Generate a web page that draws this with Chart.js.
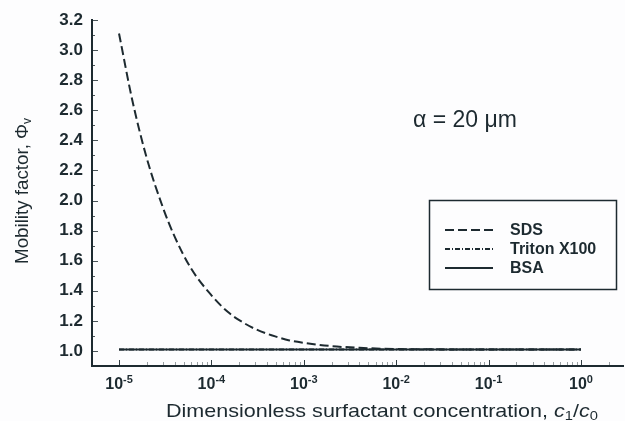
<!DOCTYPE html>
<html>
<head>
<meta charset="utf-8">
<script src="https://cdn.jsdelivr.net/npm/chart.js@4.4.0/dist/chart.umd.min.js"></script>
<style>
  html, body { margin: 0; padding: 0; background: #fdfdfe; }
  #wrap { width: 625px; height: 421px; }
</style>
</head>
<body>
<div id="wrap"><canvas id="chart" width="625" height="421"></canvas></div>
<script>
// values (x = c1/c0, y = mobility factor)
const sdsX    = [1e-5, 1.4e-5, 2e-5, 3e-5, 4e-5, 6e-5, 1e-4, 1.5e-4, 2e-4, 3e-4, 5e-4, 7e-4, 1e-3, 2e-3, 4e-3, 1e-2, 1e-1, 1];
const sdsY    = [3.11, 2.66, 2.28, 1.95, 1.76, 1.55, 1.37, 1.26, 1.205, 1.145, 1.095, 1.07, 1.054, 1.032, 1.021, 1.013, 1.01, 1.01];
const tritonX = [1e-5, 1e-3, 1e-1, 1];
const tritonY = [1.01, 1.01, 1.01, 1.01];
const bsaX    = [1e-5, 1e-3, 1e-1, 1];
const bsaY    = [1.01, 1.01, 1.01, 1.01];

const xDecades = [-5, -4, -3, -2, -1, 0];
const yTicks   = [1.0, 1.2, 1.4, 1.6, 1.8, 2.0, 2.2, 2.4, 2.6, 2.8, 3.0, 3.2];

const ink = "#1d2a30";
const pts = (xs, ys) => xs.map((x, i) => ({ x, y: ys[i] }));

// helper: draw a run of text pieces [{t, font, dy}] on one baseline
function runWidth(ctx, parts){
  return parts.reduce((w, p) => { ctx.font = p.font; return w + ctx.measureText(p.t).width; }, 0);
}
function drawRun(ctx, parts, x, y){
  let cx = x;
  for (const p of parts){
    ctx.font = p.font;
    ctx.fillText(p.t, cx, y + (p.dy || 0));
    cx += ctx.measureText(p.t).width;
  }
}

const decor = {
  id: "decor",
  afterDraw(chart){
    const { ctx, chartArea: ca } = chart;
    const xs = chart.scales.x, ys = chart.scales.y;
    ctx.save();
    ctx.strokeStyle = ink;
    ctx.fillStyle = ink;

    // inward ticks on x axis (decades + minor)
    ctx.lineWidth = 1;
    for (const n of xDecades){
      for (let m = 1; m <= 9; m++){
        const v = m * Math.pow(10, n);
        if (v < xs.min || v > xs.max) continue;
        const px = Math.round(xs.getPixelForValue(v)) + 0.5;
        const len = m === 1 ? 6 : 4;
        ctx.globalAlpha = m === 1 ? 0.9 : 0.45;
        ctx.beginPath(); ctx.moveTo(px, ca.bottom); ctx.lineTo(px, ca.bottom - len); ctx.stroke();
      }
    }
    // inward ticks on y axis
    ctx.globalAlpha = 0.8;
    for (let k = 0; k <= 23; k++){
      const v = 0.9 + k * 0.1;
      if (v > ys.max + 1e-6) continue;
      const py = Math.round(ys.getPixelForValue(v)) + 0.5;
      const len = (k % 2 === 1) ? 6 : 3;
      ctx.beginPath(); ctx.moveTo(ca.left, py); ctx.lineTo(ca.left + len, py); ctx.stroke();
    }
    ctx.globalAlpha = 1;

    // x tick labels 10^n
    ctx.textBaseline = "alphabetic";
    for (const n of xDecades){
      const px = xs.getPixelForValue(Math.pow(10, n));
      const parts = [
        { t: "10", font: "bold 16px 'Liberation Sans', Arial, sans-serif" },
        { t: String(n), font: "bold 11px 'Liberation Sans', Arial, sans-serif", dy: -6 }
      ];
      const w = runWidth(ctx, parts);
      drawRun(ctx, parts, px - w / 2, 389);
    }

    // x axis title
    const xt = [
      { t: "Dimensionless surfactant concentration, ", font: "19px 'Liberation Sans', Arial, sans-serif" },
      { t: "c", font: "italic 19px 'Liberation Sans', Arial, sans-serif" },
      { t: "1", font: "13px 'Liberation Sans', Arial, sans-serif", dy: 3 },
      { t: "/", font: "19px 'Liberation Sans', Arial, sans-serif" },
      { t: "c", font: "italic 19px 'Liberation Sans', Arial, sans-serif" },
      { t: "0", font: "13px 'Liberation Sans', Arial, sans-serif", dy: 3 }
    ];
    const xtw = runWidth(ctx, xt);
    ctx.save();
    ctx.translate(166, 417);
    ctx.scale(432 / xtw, 1);
    drawRun(ctx, xt, 0, 0);
    ctx.restore();

    // y axis title (rotated)
    const yt = [
      { t: "Mobility factor, Φ", font: "19px 'Liberation Sans', Arial, sans-serif" },
      { t: "v", font: "12px 'Liberation Sans', Arial, sans-serif", dy: 3 }
    ];
    const ytw = runWidth(ctx, yt);
    ctx.save();
    ctx.translate(28, 264);
    ctx.rotate(-Math.PI / 2);
    ctx.scale(146 / ytw, 1);
    drawRun(ctx, yt, 0, 0);
    ctx.restore();

    // annotation
    ctx.font = "23px 'Liberation Sans', Arial, sans-serif";
    ctx.fillText("α = 20 μm", 413, 127);

    // legend box
    ctx.lineWidth = 1.5;
    ctx.strokeRect(429.5, 200.5, 187, 89);
    const rows = [230, 249, 268];
    chart.data.datasets.forEach((ds, i) => {
      const y = rows[i];
      ctx.save();
      ctx.lineWidth = 2;
      ctx.setLineDash(ds.borderDash || []);
      ctx.beginPath(); ctx.moveTo(445, y); ctx.lineTo(493, y); ctx.stroke();
      ctx.restore();
      ctx.font = "bold 16px 'Liberation Sans', Arial, sans-serif";
      ctx.textBaseline = "middle";
      ctx.fillText(ds.label, 510, y + 1);
    });
    ctx.restore();
  }
};

new Chart(document.getElementById("chart"), {
  type: "line",
  data: {
    datasets: [
      { label: "SDS", data: pts(sdsX, sdsY), borderColor: ink, borderWidth: 2,
        borderDash: [9, 4], pointRadius: 0, cubicInterpolationMode: "monotone", fill: false },
      { label: "Triton X100", data: pts(tritonX, tritonY), borderColor: ink, borderWidth: 2,
        borderDash: [5, 2, 1, 2], pointRadius: 0, fill: false },
      { label: "BSA", data: pts(bsaX, bsaY), borderColor: ink, borderWidth: 2,
        pointRadius: 0, fill: false }
    ]
  },
  options: {
    responsive: false,
    animation: false,
    devicePixelRatio: 1,
    layout: { padding: { top: 20, right: 2, left: 0, bottom: 0 } },
    plugins: { legend: { display: false }, tooltip: { enabled: false } },
    scales: {
      x: {
        type: "logarithmic",
        min: 5.1e-6, max: 2.85,
        grid: { display: false, drawTicks: false },
        border: { display: true, width: 2, color: ink },
        ticks: { display: false },
        afterFit: s => { s.height = 55; }
      },
      y: {
        type: "linear",
        min: 0.9, max: 3.2,
        grid: { display: false, drawTicks: false },
        border: { display: true, width: 2, color: ink },
        afterBuildTicks: s => { s.ticks = yTicks.map(v => ({ value: v })); },
        ticks: {
          color: ink, padding: 9,
          font: { family: "'Liberation Sans', Arial, sans-serif", size: 17, weight: "bold" },
          callback: v => v.toFixed(1)
        },
        afterFit: s => { s.width = 92; }
      }
    }
  },
  plugins: [decor]
});
</script>
</body>
</html>
